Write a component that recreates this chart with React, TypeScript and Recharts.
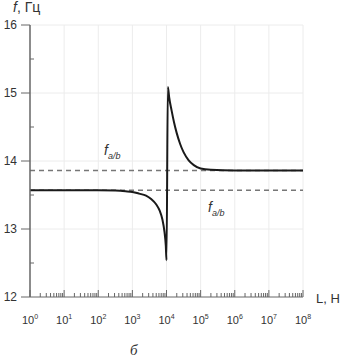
import React from 'react';
import { LineChart, Line, XAxis, YAxis, ReferenceLine } from 'recharts';

// log10(L) of each curve point
const logL = [
  0, 1, 2, 2.5, 2.8, 3, 3.2, 3.4, 3.55, 3.7, 3.8, 3.88, 3.94, 3.98, 4.0,
  4.04, 4.08, 4.15, 4.22, 4.3, 4.4, 4.5, 4.65, 4.8, 5.0, 5.3, 6, 7, 8,
];
const freq = [
  13.57, 13.57, 13.57, 13.565, 13.555, 13.545, 13.52, 13.49, 13.44, 13.36, 13.27, 13.14, 12.96, 12.75, 12.54,
  15.09, 14.93, 14.74, 14.57, 14.41, 14.25, 14.13, 14.01, 13.94, 13.89, 13.87, 13.86, 13.86, 13.86,
];

const decades = [0, 1, 2, 3, 4, 5, 6, 7, 8];
const yTicks = [12, 13, 14, 15, 16];
const yMinor = [12.5, 13.5, 14.5, 15.5];
const fUpper = 13.86;
const fLower = 13.57;

const data = logL.map((e, i) => ({ L: Math.pow(10, e), f: freq[i] }));

const xTicks: number[] = [];
decades.forEach((d) => {
  xTicks.push(Math.pow(10, d));
  if (d < 8) for (let k = 2; k <= 9; k++) xTicks.push(k * Math.pow(10, d));
});

const axisColor = '#666';
const textColor = '#333';
const font = '"Liberation Sans", Arial, sans-serif';

const XTick = (props: any) => {
  const { x, y, payload } = props;
  const v = payload.value;
  const e = Math.round(Math.log10(v));
  const major = Math.abs(v - Math.pow(10, e)) < 1e-6 * v;
  return (
    <g>
      <line x1={x} x2={x} y1={y} y2={y - (major ? 7 : 4)} stroke={axisColor} strokeWidth={1} />
      {major && (
        <text x={x} y={y + 27} textAnchor="middle" fontSize={11} fill={textColor} fontFamily={font}>
          10
          <tspan dy={-5} fontSize={7}>{e}</tspan>
        </text>
      )}
    </g>
  );
};

const YTick = (props: any) => {
  const { x, y, payload } = props;
  const v = payload.value;
  const major = Number.isInteger(v);
  return (
    <g>
      {major ? (
        <line x1={x - 9} x2={x} y1={y} y2={y} stroke={axisColor} strokeWidth={1} />
      ) : (
        <line x1={x} x2={x + 4} y1={y} y2={y} stroke={axisColor} strokeWidth={1} />
      )}
      {major && (
        <text x={x - 13} y={y + 4} textAnchor="end" fontSize={12} fill={textColor} fontFamily={font}>
          {v}
        </text>
      )}
    </g>
  );
};

const Fab = () => (
  <span>
    <i>f</i>
    <sub style={{ fontSize: 9, fontStyle: 'italic' }}>a/b</sub>
  </span>
);

export default function App() {
  return (
    <div style={{ position: 'relative', width: 345, height: 362, background: '#fff', fontFamily: font }}>
      <style>{`body{margin:0}`}</style>
      <LineChart
        width={345}
        height={362}
        data={data}
        margin={{ top: 25, right: 42, left: 0, bottom: 35 }}
      >
        <XAxis
          dataKey="L"
          type="number"
          scale="log"
          domain={[1, 1e8]}
          ticks={xTicks}
          interval={0}
          tick={<XTick />}
          tickLine={false}
          tickSize={0}
          tickMargin={0}
          height={30}
          stroke={axisColor}
          allowDataOverflow
        />
        <YAxis
          type="number"
          domain={[12, 16]}
          ticks={[...yTicks, ...yMinor]}
          interval={0}
          tick={<YTick />}
          tickLine={false}
          tickSize={0}
          tickMargin={0}
          width={30}
          stroke={axisColor}
          strokeWidth={1.5}
        />
        {decades.slice(1).map((d) => (
          <ReferenceLine key={'gx' + d} x={Math.pow(10, d)} stroke="#ececec" strokeWidth={1} />
        ))}
        {yTicks.slice(1).map((t) => (
          <ReferenceLine key={'gy' + t} y={t} stroke="#ececec" strokeWidth={1} />
        ))}
        <ReferenceLine y={fUpper} stroke="#777" strokeWidth={1.3} strokeDasharray="5 4" />
        <ReferenceLine y={fLower} stroke="#777" strokeWidth={1.3} strokeDasharray="5 4" />
        <Line
          type="monotone"
          dataKey="f"
          stroke="#1a1a1a"
          strokeWidth={2}
          dot={false}
          isAnimationActive={false}
        />
      </LineChart>
      <div style={{ position: 'absolute', left: 13, top: -1, fontSize: 14, color: textColor }}>
        <i>f</i>, Гц
      </div>
      <div style={{ position: 'absolute', left: 316, top: 291, fontSize: 13, color: textColor }}>L, Н</div>
      <div style={{ position: 'absolute', left: 104, top: 142, fontSize: 14, color: textColor }}>
        <Fab />
      </div>
      <div style={{ position: 'absolute', left: 208, top: 199, fontSize: 14, color: textColor }}>
        <Fab />
      </div>
      <div
        style={{
          position: 'absolute',
          left: 130,
          top: 342,
          fontSize: 15,
          fontStyle: 'italic',
          fontFamily: '"Liberation Serif", serif',
          color: textColor,
        }}
      >
        б
      </div>
    </div>
  );
}
